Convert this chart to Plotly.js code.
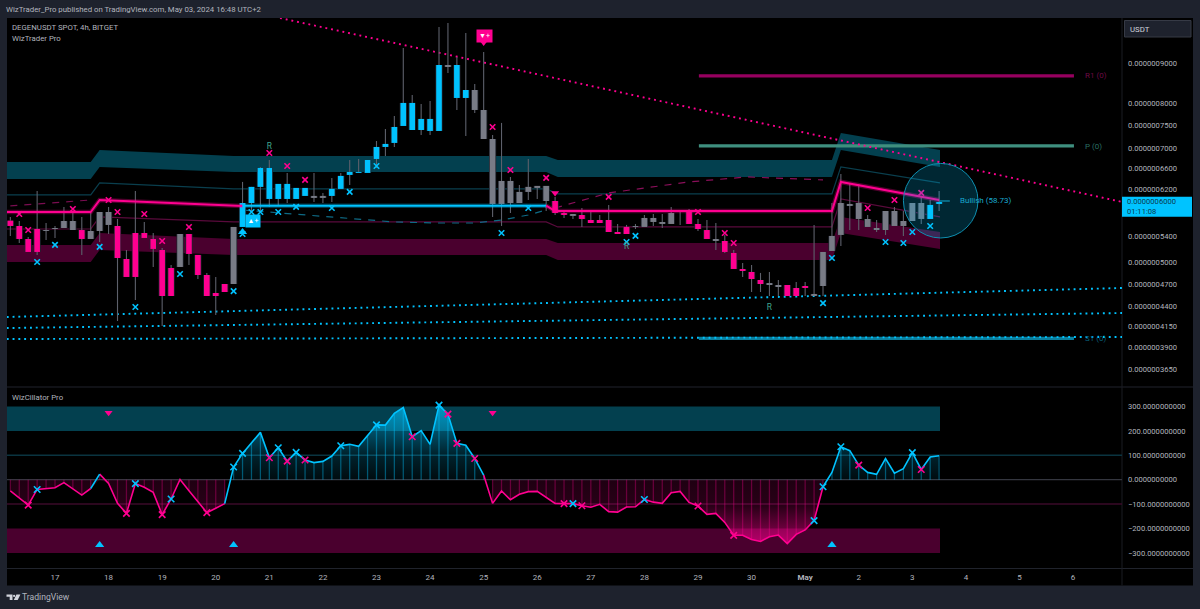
<!DOCTYPE html>
<html><head><meta charset="utf-8">
<script src="https://cdn.plot.ly/plotly-3.0.1.min.js"></script>
<style>html,body{margin:0;padding:0;background:#1e222d;overflow:hidden}#c{width:1200px;height:609px}</style>
</head><body><div id="c"></div>
<script>
// Price values are expressed in units of 1e-10 USDT. Bars are numbered in 4h steps, bar 0 = 17 April 00:00.
const firstBar = -5;
const candleKind = ['p','p','p','p','g','g','g','g','p','g','g','g','p','p','p','p','p','p','p','g','p','p','p','p','p','g',
 'c','c','c','c','c','c','c','c','g','g','c','c','c','c','c','c','c','c','c','c','c','c','c','g','c','c','g','g','g','g','g','g','g','g','g',
 'p','p','g','p','p','p','p','p','p','g','g','g','g','g','g','p','p','p','g','p','p','p','p','p','g','g','p','p','p','g','g','g','g','g','g','g','g','g','g','g','g','g','c','c'];
const open_ = [5660,5572,5363,5523,5506,5539,5539,5654,5506,5363,5490,5806,5572,5056,5458,5458,5363,5192,4924,4939,5442,5117,4824,4575,4698,4698,
 5556,5962,6251,6033,6033,6033,6033,6087,6087,6051,6087,6214,6475,6513,6513,6786,7030,7114,7478,7390,7390,7369,7369,8947,8120,8120,8313,7838,7197,5945,6361,6159,6159,6232,6269,
 5997,5789,5772,5755,5671,5671,5671,5474,5556,5572,5556,5705,5638,5605,5806,5823,5605,5506,5363,5331,5147,4910,4867,4753,4711,4684,4684,4643,4670,4535,4670,5177,5427,5945,5962,5688,5539,5506,5823,5572,5654,5962,5688,5945];
const high = [5722,5654,5395,6177,5621,5572,5893,5789,5722,5789,5806,5893,5688,5192,6177,5638,5458,5223,4968,5442,5442,5117,4853,4796,4698,5556,
 6343,6251,6629,6766,6306,6513,6232,6232,6513,6141,6418,6513,6766,6786,6766,7155,7412,7702,9407,8192,7979,8049,10006,10124,9161,9831,8462,9296,7283,7545,6437,6288,6786,6269,6269,
 6069,5823,5772,5875,5823,5755,5928,5605,5589,5605,5755,5772,5772,5893,5840,5858,5688,5671,5621,5427,5192,4997,4968,4853,4867,4753,4684,4725,4725,5589,5162,5962,6494,6306,6306,5755,5671,5823,5893,5823,5962,6069,6015,6177];
const low = [5411,5300,5162,5117,5347,5379,5539,5506,5117,5363,5316,5442,4213,4796,4481,5379,4939,4151,4535,4939,4968,4767,4535,4288,4588,4698,
 5556,5789,5789,5893,5928,5962,6033,6087,5980,5962,5980,6214,6288,6513,6513,6609,6847,7030,7478,7390,7283,7283,7369,8736,7838,7262,7770,7197,5722,5572,5789,5962,6015,6033,5823,
 5755,5705,5688,5556,5621,5621,5474,5442,5442,5523,5556,5572,5539,5605,5589,5605,5490,5363,5192,5147,4910,4796,4588,4588,4535,4535,4535,4535,4535,4535,4535,5177,5254,5506,5506,5556,5474,5427,5572,5411,5654,5605,5688,5823];
const close_ = [5572,5363,5162,5162,5490,5523,5654,5506,5363,5490,5806,5589,5071,4796,4796,5379,5208,4535,4535,5442,5132,4824,4535,4535,4588,5556,
 5962,6251,6609,6609,6306,6306,6232,6232,6051,6087,6214,6456,6532,6532,6766,7030,7093,7456,8002,8002,7634,7634,8947,8894,8947,8313,7838,7197,5945,6361,5962,5962,6251,6269,5997,
 5789,5755,5739,5688,5621,5621,5474,5442,5442,5556,5705,5638,5605,5789,5840,5605,5523,5363,5331,5162,4910,4881,4767,4698,4684,4656,4535,4535,4643,4562,5162,5411,5962,5910,5688,5556,5506,5823,5572,5654,5962,5688,5928,5980];

// Oscillator, one value per bar
const osc = [-46,-74,-104,-40,-38,-33,-12,-38,-63,-36,23,-15,-97,-138,-16,-31,-52,-143,-79,1,-45,-90,-135,-117,-98,
 52,108,152,194,90,131,76,112,81,70,75,97,139,145,137,183,225,224,272,296,176,201,145,306,269,149,141,87,19,-97,
 -46,-82,-60,-49,-48,-74,-97,-98,-98,-107,-113,-101,-131,-133,-112,-111,-81,-92,-97,-53,-48,-93,-108,-142,-138,-175,-228,-228,-245,-253,-234,-227,-262,-224,-206,-168,-29,
 30,135,119,60,30,22,87,27,45,111,42,93,98];
const oscCyanRuns = [[4,5],[19,48],[86,99]];
const oscPinkRuns = [[-5,4],[5,19],[48,86]];
const oscFillCyan = [[20,48],[87,99]];
const oscFillPink = [[-5,19],[49,86]];
const oscCrossCyan = [-2,9,13,20,21,25,27,32,36,43,58,66,85,86,88,96];
const oscCrossPink = [-3,8,12,17,24,26,28,40,44,45,47,57,59,72,76,90,97];
const oscTriDownX = [6,49], oscTriDownY = [275,275];
const oscTriUpX = [5,20,87], oscTriUpY = [-268,-268,-268];

// Bands and thin lines of the price pane
const bandX = [-5.4,4,5,20,55,56.3,87,88,99.1];
const tealTop = [6726,6726,6968,6847,6847,6766,6766,7326,6968];
const tealBot = [6399,6399,6629,6532,6532,6437,6437,6968,6629];
const plumTop = [5270,5270,5458,5363,5363,5300,5300,5722,5474];
const plumBot = [5012,5012,5192,5117,5117,5041,5041,5458,5208];
const thinTeal = [6105,6105,6324,6214,6214,6123,6123,6629,6324];
const thinPlum = [5523,5523,5722,5638,5638,5556,5556,6033,5722];
const mainPink1X = [-5.4,4,5,21], mainPink1Y = [5806,5806,6015,5910];
const mainCyanX = [21,55], mainCyanY = [5915,5915];
const mainPink2X = [55,56,87,88,99], mainPink2Y = [5915,5823,5823,6343,6015];
const dashP1X = [-5,4], dashP1Y = [5910,6015];
const dashTX = [21,31,38,43,47,50,53,55], dashTY = [5840,5722,5638,5621,5621,5671,5755,5840];
const dashP2X = [56,62,71,77.5,86], dashP2Y = [5875,6141,6343,6437,6380];
const trendX = [-5.4,119.5];
const trendPinkX = [25.2,119.5], trendPinkY = [10273,5980];
const trendA = [4263,4643], trendB = [4127,4313], trendC = [3996,4020];
const levelX = [72.1,114.1];
const levelR1 = 8663, levelP = 7051, levelS1 = 4004;
const lastPriceX = [99,100.2], lastPrice = 5997;

// Signals of the price pane
const crossPinkX = [-4,-3,2,6,7,10,12,15,24,26,28,49,51,55,62,72,75,76,91,94,97];
const crossPinkY = [5772,5506,5858,6015,5806,5772,5331,5556,6907,6648,6380,7456,6570,6418,6069,5806,5458,5300,5875,6015,6141];
const crossCyanX = [-2,0,5,9,14,20,21,22,23,25,27,31,33,36,50,53,64,65,86,87,93,95,96,98];
const crossCyanY = [5012,5270,5239,4391,4838,4601,5442,5806,5806,5806,5893,5875,6159,6648,5458,5875,5316,5411,4441,5071,5316,5300,5474,5572];
const rX = [24,64,80], rY = [7030,5239,4377];
const priceTriDownX = [56,48], priceTriDownY = [6141,9560];
const priceTriUpX = [21], priceTriUpY = [5475];

// Axis labels
const priceTicks = [9000,8000,7500,7000,6600,6200,5400,5000,4700,4400,4150,3900,3650];
const priceTickText = ['0.0000009000','0.0000008000','0.0000007500','0.0000007000','0.0000006600','0.0000006200','0.0000005400','0.0000005000','0.0000004700','0.0000004400','0.0000004150','0.0000003900','0.0000003650'];
const oscTicks = [300,200,100,0,-100,-200,-300];
const oscTickText = ['300.0000000000','200.0000000000','100.0000000000','0.0000000000','−100.0000000000','−200.0000000000','−300.0000000000'];
const dayTicks = [0,6,12,18,24,30,36,42,48,54,60,66,72,78,84,90,96,102,108,114];
const dayText = ['17','18','19','20','21','22','23','24','25','26','27','28','29','30','<b>May</b>','2','3','4','5','6'];

const PINK='#ff0090', CYAN='#00c3ff', GRAY='#787b86', WICK='#5d606b';
const TEAL_BAND='#03404f', PLUM_BAND='#4a002e';
const FONT='Roboto, "Open Sans", sans-serif', TXT='#b2b5be';
const px=x=>x/1200, py=y=>1-y/609;
const bars=candleKind.map((_,k)=>k+firstBar);

function segs(filter,a,b){const x=[],y=[];bars.forEach((i,k)=>{if(filter(k)){x.push(i,i,null);y.push(a[k],b[k],null);}});return{x,y};}
function line(x,y,color,width,dash,extra){return Object.assign({type:'scatter',mode:'lines',x,y,xaxis:'x',yaxis:'y',hoverinfo:'skip',line:{color,width,dash:dash||'solid'}},extra||{});}
function band(top,bot,color){return line(bandX.concat(bandX.slice().reverse()),top.concat(bot.slice().reverse()),color,0,null,{fill:'toself',fillcolor:color});}
function crosses(x,y,color,xa,ya,size){return{type:'scatter',mode:'markers',x,y,xaxis:xa,yaxis:ya,hoverinfo:'skip',marker:{symbol:'x-thin',size:size,color,line:{color,width:1.6}}};}
function tris(x,y,color,sym,xa,ya,size){return{type:'scatter',mode:'markers',x,y,xaxis:xa,yaxis:ya,hoverinfo:'skip',marker:{symbol:sym,size:size,color}};}
function idx(i){return i-firstBar;}

const traces=[
 band(tealTop,tealBot,TEAL_BAND), band(plumTop,plumBot,PLUM_BAND),
 line(bandX,thinTeal,'#0a3f4e',1.2), line(bandX,thinPlum,'#5a0a3c',1.2),
 line(levelX,[levelR1,levelR1],'#96005f',3.2), line(levelX,[levelP,levelP],'#3f8f7f',3.2), line(levelX,[levelS1,levelS1],'#0a7f9e',3.2),
 line(dashP1X,dashP1Y,'#7a0d50',1.2,'7px,7px'), line(dashTX,dashTY,'#0e6a85',1.2,'7px,7px'), line(dashP2X,dashP2Y,'#8a0f5a',1.2,'7px,7px'),
 line(trendPinkX,trendPinkY,PINK,1.9,'1.9px,3.9px'),
 line(trendX,trendA,CYAN,1.9,'1.9px,3.9px'), line(trendX,trendB,CYAN,1.9,'1.9px,3.9px'), line(trendX,trendC,CYAN,1.9,'1.9px,3.9px'),
 line(lastPriceX,[lastPrice,lastPrice],'#1aa5c9',1),
];
{const s=segs(()=>true,high,low); traces.push(line(s.x,s.y,WICK,1.1,null,{connectgaps:false}));
 const o=segs(()=>true,open_,close_); traces.push(line(o.x,o.y,'#20242e',7.2));
 [['p',PINK],['g',GRAY],['c',CYAN]].forEach(([k,col])=>{const b=segs(n=>candleKind[n]===k,open_,close_);traces.push(line(b.x,b.y,col,5.6));});}
traces.push(
 line(mainPink1X,mainPink1Y,'rgba(255,0,144,0.3)',4.5), line(mainPink1X,mainPink1Y,PINK,2),
 line(mainCyanX,mainCyanY,'rgba(0,195,255,0.3)',4.5), line(mainCyanX,mainCyanY,CYAN,2),
 line(mainPink2X,mainPink2Y,'rgba(255,0,144,0.3)',4.5), line(mainPink2X,mainPink2Y,PINK,2),
 crosses(crossPinkX,crossPinkY,PINK,'x','y',5.5), crosses(crossCyanX,crossCyanY,CYAN,'x','y',5.5),
 tris(priceTriDownX,priceTriDownY,PINK,'triangle-down','x','y',7),
 tris(priceTriUpX,priceTriUpY,CYAN,'triangle-up','x','y',8),
 {type:'scatter',mode:'text',x:rX,y:rY,text:rX.map(()=>'R'),xaxis:'x',yaxis:'y',hoverinfo:'skip',textfont:{family:FONT,size:8.4,color:'#3fa58f'}}
);
// Oscillator: gradient fills
function runXY(run,clip){const x=[],y=[];for(let i=run[0];i<=run[1];i++){x.push(i);y.push(clip(osc[idx(i)]));}return{x,y};}
oscFillCyan.forEach(r=>{const d=runXY(r,v=>Math.max(v,0));traces.push({type:'scatter',mode:'none',x:d.x,y:d.y,xaxis:'x2',yaxis:'y2',fill:'tozeroy',hoverinfo:'skip',
 fillgradient:{type:'vertical',start:0,stop:300,colorscale:[[0,'rgba(0,195,255,0.06)'],[0.35,'rgba(0,195,255,0.18)'],[1,'rgba(0,195,255,0.65)']]}});});
oscFillPink.forEach(r=>{const d=runXY(r,v=>Math.min(v,0));traces.push({type:'scatter',mode:'none',x:d.x,y:d.y,xaxis:'x2',yaxis:'y2',fill:'tozeroy',hoverinfo:'skip',
 fillgradient:{type:'vertical',start:0,stop:-270,colorscale:[[0,'rgba(255,0,144,0.12)'],[0.4,'rgba(255,0,144,0.16)'],[1,'rgba(255,0,144,0.62)']]}});});
// Oscillator: histogram stripes
[[oscFillCyan,'rgba(0,195,255,0.4)'],[oscFillPink,'rgba(255,0,144,0.32)']].forEach(([runs,col])=>{
 const x=[],y=[];runs.forEach(r=>{for(let i=r[0];i<=r[1];i++){x.push(i);y.push(osc[idx(i)]);}});
 traces.push({type:'bar',x,y,width:0.14,xaxis:'x2',yaxis:'y2',hoverinfo:'skip',marker:{color:col,line:{width:0}}});
});
// Oscillator: line
oscPinkRuns.forEach(r=>{const d=runXY(r,v=>v);traces.push({type:'scatter',mode:'lines',x:d.x,y:d.y,xaxis:'x2',yaxis:'y2',hoverinfo:'skip',line:{color:PINK,width:1.6}});});
oscCyanRuns.forEach(r=>{const d=runXY(r,v=>v);traces.push({type:'scatter',mode:'lines',x:d.x,y:d.y,xaxis:'x2',yaxis:'y2',hoverinfo:'skip',line:{color:CYAN,width:1.6}});});
traces.push(
 crosses(oscCrossPink,oscCrossPink.map(i=>osc[idx(i)]),PINK,'x2','y2',6.5),
 crosses(oscCrossCyan,oscCrossCyan.map(i=>osc[idx(i)]),CYAN,'x2','y2',6.5),
 tris(oscTriDownX,oscTriDownY,PINK,'triangle-down','x2','y2',7),
 tris(oscTriUpX,oscTriUpY,CYAN,'triangle-up','x2','y2',8)
);

function paperRect(x0,y0,x1,y1,fill,lineCol,layer){return{type:'rect',xref:'paper',yref:'paper',x0:px(x0),x1:px(x1),y0:py(y1),y1:py(y0),fillcolor:fill,line:{color:lineCol||'rgba(0,0,0,0)',width:lineCol?1:0},layer:layer||'below'};}
function ann(text,x,y,size,color,extra){return Object.assign({text,x:px(x),y:py(y),xref:'paper',yref:'paper',xanchor:'left',yanchor:'middle',showarrow:false,borderpad:0,borderwidth:0,font:{family:FONT,size,color}},extra||{});}

const shapes=[
 paperRect(7,18,1193,585.5,'#000000'),
 paperRect(7,386.5,1193,387.5,'#20232c'), paperRect(7,568,1193,569,'#20232c'), paperRect(1121.5,18,1122.5,585.5,'#1a1c23'),
 {type:'rect',xref:'x2',yref:'y2',x0:-5.4,x1:99.1,y0:200,y1:300,fillcolor:TEAL_BAND,line:{width:0},layer:'below'},
 {type:'rect',xref:'x2',yref:'y2',x0:-5.4,x1:99.1,y0:-300,y1:-200,fillcolor:PLUM_BAND,line:{width:0},layer:'below'},
 {type:'line',xref:'paper',yref:'y2',x0:px(7),x1:px(1122),y0:100,y1:100,line:{color:'#0a3440',width:1.5},layer:'below'},
 {type:'line',xref:'paper',yref:'y2',x0:px(7),x1:px(1122),y0:-100,y1:-100,line:{color:'#3a0a28',width:1.5},layer:'below'},
 {type:'line',xref:'paper',yref:'y2',x0:px(7),x1:px(1122),y0:0,y1:0,line:{color:'#34363f',width:1.2},layer:'below'},
 {type:'circle',xref:'paper',yref:'paper',x0:px(903.4),x1:px(978),y0:py(238),y1:py(163.4),fillcolor:'rgba(0,195,255,0.2)',line:{color:'#0e8fb0',width:1},layer:'above'},
 paperRect(1122,196.7,1192,216.7,CYAN,null,'above'),
 Object.assign(paperRect(1124.5,20.5,1191,37,'#1e222d','#363a45','above')),
 // TradingView mark
 {type:'path',xref:'paper',yref:'paper',path:`M ${px(6.5)} ${py(594.5)} H ${px(12.5)} V ${py(600)} H ${px(9.7)} V ${py(596.8)} H ${px(6.5)} Z`,fillcolor:'#d1d4dc',line:{width:0},layer:'above'},
 {type:'circle',xref:'paper',yref:'paper',x0:px(13),x1:px(15.2),y0:py(597),y1:py(594.8),fillcolor:'#d1d4dc',line:{width:0},layer:'above'},
 {type:'path',xref:'paper',yref:'paper',path:`M ${px(16.4)} ${py(594.5)} H ${px(20.4)} L ${px(17.7)} ${py(600)} H ${px(13.8)} Z`,fillcolor:'#d1d4dc',line:{width:0},layer:'above'}
];
const annotations=[
 ann('WizTrader_Pro published on TradingView.com, May 03, 2024 16:48 UTC+2',6,9.5,7.8,'#b2b5be'),
 ann('DEGENUSDT SPOT, 4h, BITGET',11.5,27,7.8,TXT),
 ann('WizTrader Pro',11.5,38,7.8,TXT),
 ann('WizCillator Pro',11.5,397,7.8,TXT),
 ann('TradingView',22,597,8.6,'#b2b5be'),
 ann('USDT',1130,29,7.8,'#d1d4dc'),
 ann('R1 (0)',1085,76,8,'#6d0a46'),
 ann('P (0)',1085,146,8,'#2a6f62'),
 ann('S1 (0)',1085,338.5,8,'#0a5f78'),
 ann('Bullish (58.73)',960,201,8,'#18a8cf'),
 ann('0.0000006000',1127,201.5,7.6,'#0b3a4d'),
 ann('01:11:08',1127,211.5,7.6,'#0b3a4d'),
 {text:'▼+',x:px(484),y:py(36.5),xref:'paper',yref:'paper',xanchor:'center',yanchor:'middle',width:15,height:12,showarrow:false,bgcolor:PINK,borderpad:0,font:{family:FONT,size:7,color:'#ffffff'}},
 {text:'▲+',x:px(253),y:py(221),xref:'paper',yref:'paper',xanchor:'center',yanchor:'middle',width:14,height:12,showarrow:false,bgcolor:CYAN,borderpad:0,font:{family:FONT,size:7,color:'#ffffff'}}
];
const xr=[-5.375,119.48];
const dom=[px(7),px(1122)];
const layout={width:1200,height:609,margin:{l:0,r:0,t:0,b:0},paper_bgcolor:'#1e222d',plot_bgcolor:'rgba(0,0,0,0)',showlegend:false,barmode:'overlay',
 font:{family:FONT,color:TXT},
 xaxis:{domain:dom,range:xr,anchor:'y',showticklabels:false,showgrid:false,zeroline:false,ticks:'',fixedrange:true},
 xaxis2:{domain:dom,range:xr,anchor:'y2',tickmode:'array',tickvals:dayTicks,ticktext:dayText,showgrid:false,zeroline:false,ticks:'',ticklen:0,tickangle:0,ticklabelstandoff:3,tickfont:{family:FONT,size:8,color:TXT},fixedrange:true},
 yaxis:{domain:[py(387),py(18)],type:'log',range:[3.5403,4.0117],side:'right',anchor:'x',tickmode:'array',tickvals:priceTicks,ticktext:priceTickText,showgrid:false,zeroline:false,ticks:'',ticklabelstandoff:5,tickfont:{family:FONT,size:7.6,color:TXT},fixedrange:true},
 yaxis2:{domain:[py(568),py(388)],range:[-362,376],side:'right',anchor:'x2',tickmode:'array',tickvals:oscTicks,ticktext:oscTickText,showgrid:false,zeroline:false,ticks:'',ticklabelstandoff:5,tickfont:{family:FONT,size:7.6,color:TXT},fixedrange:true},
 shapes,annotations};
Plotly.newPlot('c',traces,layout,{displayModeBar:false,staticPlot:true});
</script></body></html>
